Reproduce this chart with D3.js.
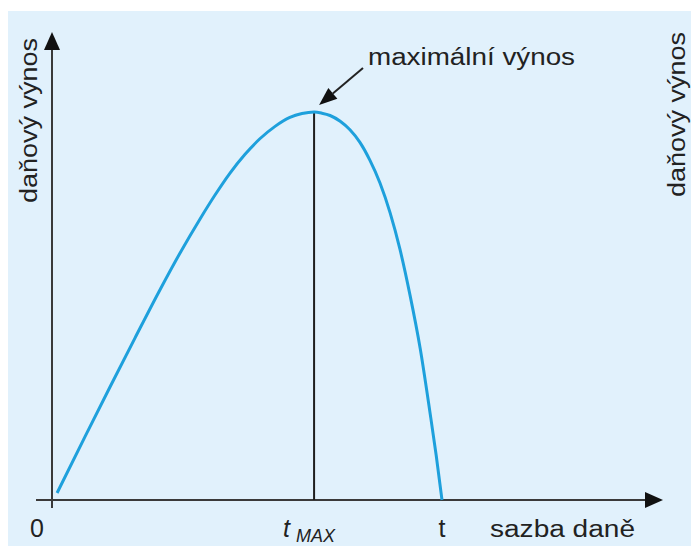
<!DOCTYPE html>
<html>
<head>
<meta charset="utf-8">
<script src="https://cdn.jsdelivr.net/npm/d3@7"></script>
<style>
  body { margin: 0; background: #fff; }
  svg text { font-family: "Liberation Sans", Arial, sans-serif; fill: #222; }
</style>
</head>
<body>
<svg id="chart"></svg>
<script>
// Laffer curve: tax rate (t = 1 where revenue falls back to zero) vs. tax revenue (peak = 1)
const taxRate = [0.013, 0.085, 0.149, 0.213, 0.277, 0.328, 0.380, 0.418, 0.456, 0.495, 0.533,
  0.572, 0.610, 0.641, 0.672, 0.692, 0.713, 0.739, 0.764, 0.790, 0.815, 0.841, 0.867, 0.892,
  0.918, 0.944, 0.969, 0.985, 1.0];
const revenue = [0.018, 0.164, 0.292, 0.418, 0.542, 0.636, 0.725, 0.786, 0.842, 0.891, 0.931,
  0.963, 0.986, 0.996, 1.0, 0.997, 0.991, 0.976, 0.954, 0.921, 0.876, 0.817, 0.740, 0.647,
  0.528, 0.391, 0.227, 0.116, 0.0];
const tMax = 0.672;
const tickValues = [0, tMax, 1];
const tickLabels = ["0", "t", "t"];
const tickSubs = ["", "MAX", ""];
const xTitle = "sazba daně";
const yTitle = "daňový výnos";
const peakLabel = "maximální výnos";

const width = 691;
const height = 546;

const svg = d3.select("#chart").attr("width", width).attr("height", height);

// Light blue panel
svg.append("rect")
  .attr("x", 8).attr("y", 11)
  .attr("width", width - 8).attr("height", height - 11)
  .attr("fill", "#e1f1fc");

// Scales
const x = d3.scaleLinear().domain([0, 1]).range([52, 442]);
const y = d3.scaleLinear().domain([0, 1]).range([500, 112]);

const axisColor = "#3a3a3a";

// X axis with arrow
const xEnd = 663;
svg.append("line")
  .attr("x1", 36).attr("y1", y(0))
  .attr("x2", xEnd - 14).attr("y2", y(0))
  .attr("stroke", axisColor).attr("stroke-width", 2);
svg.append("path")
  .attr("d", `M${xEnd},${y(0)} L${xEnd - 18},${y(0) - 8} L${xEnd - 18},${y(0) + 8} Z`)
  .attr("fill", "#111");

// Y axis with arrow
const yEnd = 32;
svg.append("line")
  .attr("x1", x(0)).attr("y1", 508)
  .attr("x2", x(0)).attr("y2", yEnd + 14)
  .attr("stroke", axisColor).attr("stroke-width", 2);
svg.append("path")
  .attr("d", `M${x(0)},${yEnd} L${x(0) - 8},${yEnd + 18} L${x(0) + 8},${yEnd + 18} Z`)
  .attr("fill", "#111");

// Vertical line at t_MAX
svg.append("line")
  .attr("x1", x(tMax)).attr("y1", y(0))
  .attr("x2", x(tMax)).attr("y2", y(1))
  .attr("stroke", "#1e1e1e").attr("stroke-width", 2);

// Curve
const line = d3.line()
  .x((d, i) => x(taxRate[i]))
  .y((d) => y(d))
  .curve(d3.curveMonotoneX);

svg.append("path")
  .datum(revenue)
  .attr("d", line)
  .attr("fill", "none")
  .attr("stroke", "#1ea0dc")
  .attr("stroke-width", 3);

// Tick labels
tickValues.forEach((v, i) => {
  const g = svg.append("text")
    .attr("y", 537)
    .attr("font-size", 25);
  if (i === 0) {
    g.attr("x", x(v) - 15).attr("text-anchor", "middle").text(tickLabels[i]);
  } else if (tickSubs[i]) {
    g.attr("x", x(v) - 31);
    g.append("tspan").attr("font-style", "italic").text(tickLabels[i]);
    g.append("tspan")
      .attr("font-style", "italic")
      .attr("font-size", 18)
      .attr("dx", 6).attr("dy", 5)
      .text(tickSubs[i]);
  } else {
    g.attr("x", x(v)).attr("text-anchor", "middle").text(tickLabels[i]);
  }
});

// Axis titles
svg.append("text")
  .attr("x", 490).attr("y", 537)
  .attr("font-size", 23)
  .attr("textLength", 145).attr("lengthAdjust", "spacingAndGlyphs")
  .text(xTitle);

svg.append("text")
  .attr("transform", "translate(37,203) rotate(-90)")
  .attr("font-size", 23)
  .attr("textLength", 165).attr("lengthAdjust", "spacingAndGlyphs")
  .text(yTitle);

svg.append("text")
  .attr("transform", "translate(685,197) rotate(-90)")
  .attr("font-size", 23)
  .attr("textLength", 165).attr("lengthAdjust", "spacingAndGlyphs")
  .text(yTitle);

// Peak annotation
svg.append("text")
  .attr("x", 368).attr("y", 65)
  .attr("font-size", 23)
  .attr("textLength", 207).attr("lengthAdjust", "spacingAndGlyphs")
  .text(peakLabel);

const ax0 = 363, ay0 = 68;
const ax1 = x(tMax) + 5, ay1 = y(1) - 7;
const ang = Math.atan2(ay1 - ay0, ax1 - ax0);
const headLen = 18, headW = 7;
const bx = ax1 - headLen * Math.cos(ang), by = ay1 - headLen * Math.sin(ang);
svg.append("line")
  .attr("x1", ax0).attr("y1", ay0)
  .attr("x2", bx).attr("y2", by)
  .attr("stroke", "#222").attr("stroke-width", 2);
svg.append("path")
  .attr("d", `M${ax1},${ay1} L${bx + headW * Math.sin(ang)},${by - headW * Math.cos(ang)} L${bx - headW * Math.sin(ang)},${by + headW * Math.cos(ang)} Z`)
  .attr("fill", "#111");
</script>
</body>
</html>
